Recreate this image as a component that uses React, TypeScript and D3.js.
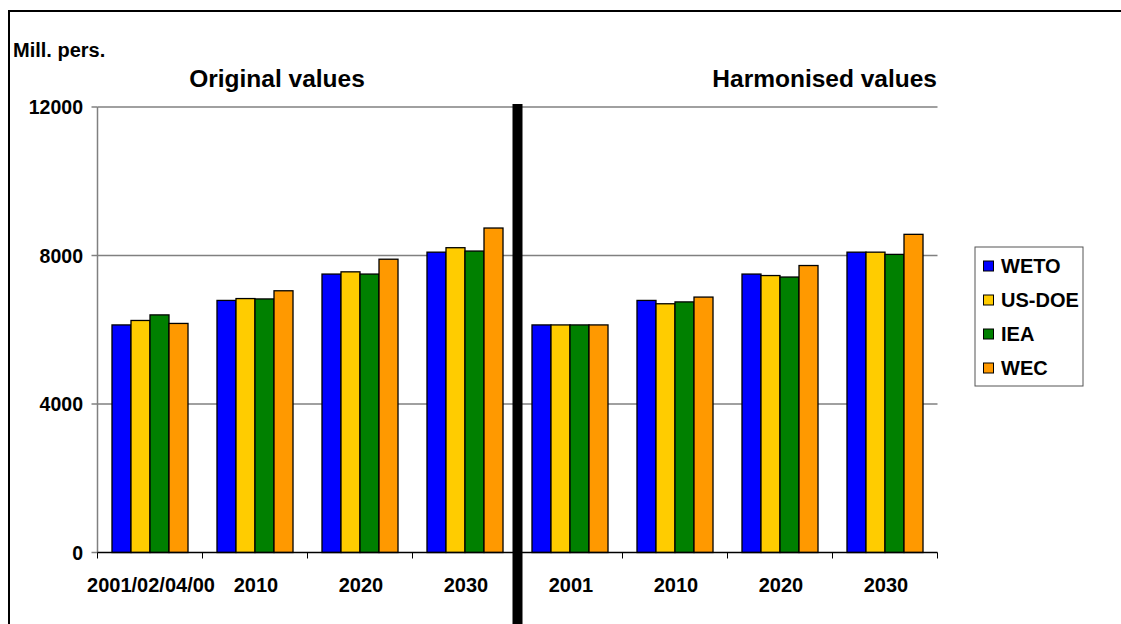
import React from "react";
import * as d3 from "d3";

const categories = ["2001/02/04/00", "2010", "2020", "2030", "2001", "2010", "2020", "2030"];
const seriesNames = ["WETO", "US-DOE", "IEA", "WEC"];
const seriesColors = ["#0000FF", "#FFCC00", "#008000", "#FF9900"];
const weto = [6130, 6790, 7500, 8090, 6130, 6790, 7500, 8090];
const usdoe = [6250, 6840, 7560, 8210, 6130, 6700, 7460, 8090];
const iea = [6400, 6830, 7500, 8120, 6130, 6750, 7420, 8030];
const wec = [6170, 7050, 7900, 8740, 6130, 6880, 7730, 8570];
const yTicks = [0, 4000, 8000, 12000];
const panelTitles = ["Original values", "Harmonised values"];
const unitLabel = "Mill. pers.";

const series = [weto, usdoe, iea, wec];

const FONT = "'Liberation Sans', Arial, sans-serif";

export default function App() {
  const W = 1121, H = 624;
  const left = 97.5, right = 937.5, top = 107, bottom = 552.5;
  const y = d3.scaleLinear().domain([0, 12000]).range([bottom, top]);
  const x0 = d3
    .scaleBand<number>()
    .domain(categories.map((_, i) => i))
    .range([left, right])
    .paddingInner(0.276)
    .paddingOuter(0.138);
  const x1 = d3
    .scaleBand<number>()
    .domain(seriesNames.map((_, i) => i))
    .range([0, x0.bandwidth()])
    .padding(0);
  const step = x0.step();
  const boundaries = d3.range(categories.length + 1).map((i) => left + i * step);
  const mid = (left + right) / 2;

  return (
    <svg width={W} height={H} style={{ position: "absolute", left: 0, top: 0, background: "#fff" }}>
      <rect x={0} y={0} width={W} height={H} fill="#fff" />
      {/* outer frame */}
      <rect x={9} y={11} width={W + 20} height={H + 20} fill="none" stroke="#000" strokeWidth={2} />
      {/* gridlines */}
      {yTicks.map((t) => (
        <g key={t}>
          {t > 0 && (
            <line x1={left} x2={right} y1={y(t)} y2={y(t)} stroke="#808080" strokeWidth={1.5} />
          )}
          <line x1={left - 6} x2={left} y1={y(t)} y2={y(t)} stroke="#808080" strokeWidth={1.5} />
          <text
            x={83}
            y={y(t) + 7}
            textAnchor="end"
            fontFamily={FONT}
            fontWeight="bold"
            fontSize={19.5}
          >
            {t}
          </text>
        </g>
      ))}
      {/* y axis */}
      <line x1={left} x2={left} y1={top} y2={bottom} stroke="#808080" strokeWidth={1.5} />
      {/* bars */}
      {categories.map((c, i) => (
        <g key={i} transform={`translate(${x0(i)},0)`}>
          {series.map((s, j) => (
            <rect
              key={j}
              x={x1(j)}
              y={y(s[i])}
              width={x1.bandwidth()}
              height={y(0) - y(s[i])}
              fill={seriesColors[j]}
              stroke="#000"
              strokeWidth={1.3}
            />
          ))}
        </g>
      ))}
      {/* x axis */}
      <line x1={left} x2={right} y1={bottom} y2={bottom} stroke="#000" strokeWidth={1.3} />
      {boundaries.map((b, i) => (
        <line key={i} x1={b} x2={b} y1={bottom} y2={bottom + 6} stroke="#000" strokeWidth={1} />
      ))}
      {categories.map((c, i) => (
        <text
          key={i}
          x={(x0(i) as number) + x0.bandwidth() / 2 + 1}
          y={592}
          textAnchor="middle"
          fontFamily={FONT}
          fontWeight="bold"
          fontSize={20}
        >
          {c}
        </text>
      ))}
      {/* divider */}
      <rect x={mid - 5} y={104} width={10} height={H - 104} fill="#000" />
      {/* titles */}
      <text x={13} y={57} fontFamily={FONT} fontWeight="bold" fontSize={20}>
        {unitLabel}
      </text>
      <text x={277} y={87} textAnchor="middle" fontFamily={FONT} fontWeight="bold" fontSize={24.5}>
        {panelTitles[0]}
      </text>
      <text x={937} y={87} textAnchor="end" fontFamily={FONT} fontWeight="bold" fontSize={24.5}>
        {panelTitles[1]}
      </text>
      {/* legend */}
      <rect x={975} y={247} width={108} height={139} fill="#fff" stroke="#555" strokeWidth={1} />
      {seriesNames.map((n, j) => {
        const cy = 266 + j * 34;
        return (
          <g key={n}>
            <rect x={983.5} y={cy - 5} width={10} height={10} fill={seriesColors[j]} stroke="#000" strokeWidth={1} />
            <text x={1001} y={cy + 7} fontFamily={FONT} fontWeight="bold" fontSize={20}>
              {n}
            </text>
          </g>
        );
      })}
    </svg>
  );
}
